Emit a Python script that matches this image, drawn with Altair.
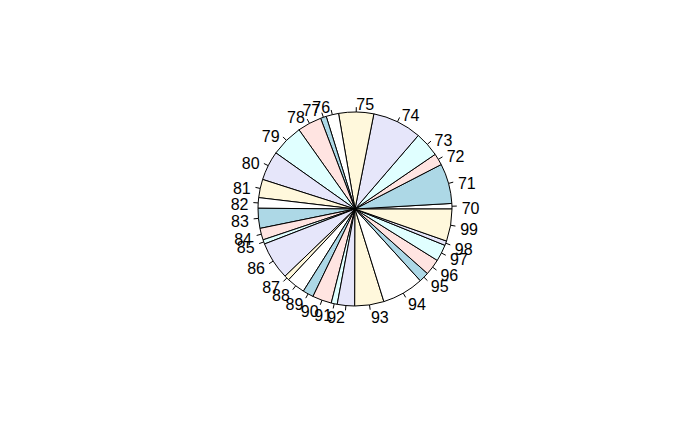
import altair as alt
import pandas as pd

labels = [str(v) for v in range(70, 100)]
# slice sizes (degrees of the circle)
values = [3.3, 24.0, 7.0, 15.0, 29.5, 21.0, 7.5, 3.5, 14.5, 19.4,
          17.6, 11.0, 6.3, 12.0, 7.0, 2.6, 22.7, 3.0, 11.0, 6.5,
          11.5, 3.6, 10.4, 17.5, 25.0, 6.0, 9.7, 10.0, 2.7, 19.3]
palette = ["#FFFFFF", "#ADD8E6", "#FFE4E1", "#E0FFFF", "#E6E6FA", "#FFF8DC"]
colors = [palette[i % len(palette)] for i in range(len(labels))]

df = pd.DataFrame({"label": labels, "value": values, "idx": list(range(len(labels)))})

CX, CY, R = 347, 201, 97

base = alt.Chart(df).transform_joinaggregate(
    total="sum(value)"
).transform_window(
    cum="sum(value)", sort=[alt.SortField("idx", order="ascending")], frame=[None, 0]
).transform_calculate(
    a1="datum.cum / datum.total * 2 * PI",
    a0="(datum.cum - datum.value) / datum.total * 2 * PI",
).transform_calculate(
    mid="(datum.a0 + datum.a1) / 2",
    t0="PI / 2 - datum.a1 + 2 * PI",
    t1="PI / 2 - datum.a0 + 2 * PI",
).transform_calculate(
    cx0=f"{CX} + {R} * cos(datum.mid)",
    cy0=f"{CY} - {R} * sin(datum.mid)",
    cx1=f"{CX} + {R * 1.05} * cos(datum.mid)",
    cy1=f"{CY} - {R * 1.05} * sin(datum.mid)",
    lx=f"{CX} + {R * 1.1} * cos(datum.mid)",
    ly=f"{CY} - {R * 1.1} * sin(datum.mid)",
)

arcs = base.mark_arc(radius=R, stroke="black", strokeWidth=1).encode(
    x=alt.value(CX),
    y=alt.value(CY),
    theta=alt.Theta("t0:Q", scale=None),
    theta2="t1:Q",
    color=alt.Color("label:N", scale=alt.Scale(domain=labels, range=colors), legend=None),
)

ticks = base.mark_rule(color="black", strokeWidth=1).encode(
    x=alt.X("cx0:Q", scale=None),
    y=alt.Y("cy0:Q", scale=None),
    x2="cx1:Q",
    y2="cy1:Q",
)

right_text = base.transform_filter("cos(datum.mid) >= 0").mark_text(
    align="left", baseline="middle", font="Liberation Sans", fontSize=16,
    color="black", dy=3
).encode(
    x=alt.X("lx:Q", scale=None),
    y=alt.Y("ly:Q", scale=None),
    text="label:N",
)

left_text = base.transform_filter("cos(datum.mid) < 0").mark_text(
    align="right", baseline="middle", font="Liberation Sans", fontSize=16,
    color="black", dy=3
).encode(
    x=alt.X("lx:Q", scale=None),
    y=alt.Y("ly:Q", scale=None),
    text="label:N",
)

chart = alt.layer(arcs, ticks, right_text, left_text).properties(
    width=657, height=425, padding=0, autosize=alt.AutoSizeParams(type="none"),
    background="white",
).configure_view(stroke=None)

chart.save("out.html", embed_options={"renderer": "svg", "actions": False})
